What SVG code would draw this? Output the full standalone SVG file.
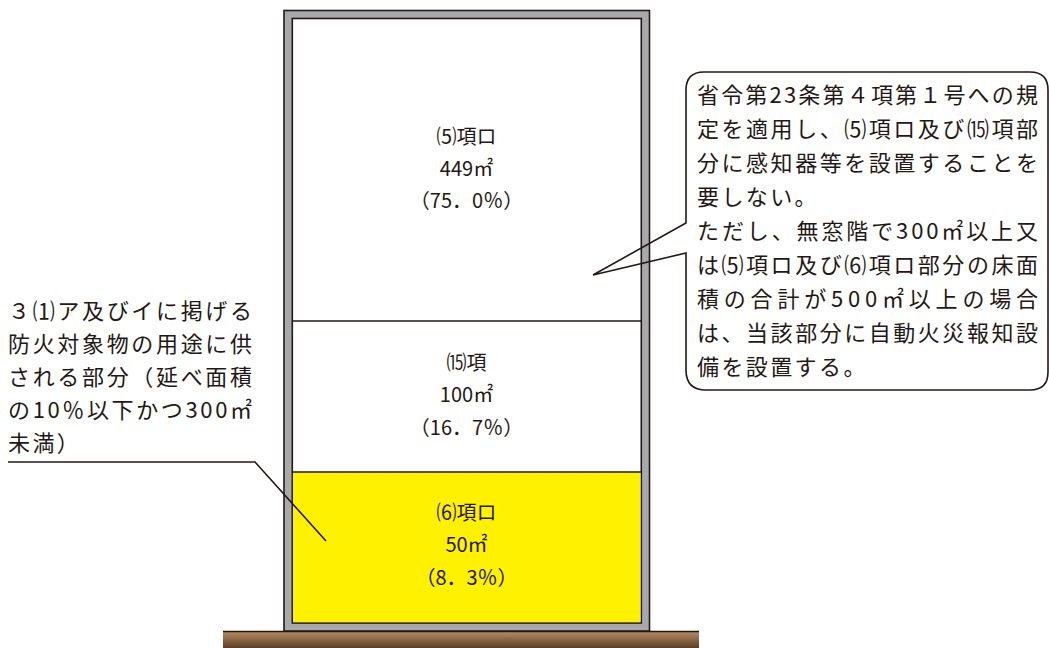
<svg xmlns="http://www.w3.org/2000/svg" width="1049" height="648" viewBox="0 0 1049 648">
<style>
.t{font-family:"Noto Sans CJK JP","Noto Sans CJK SC",sans-serif;fill:#231815}
.c{font-size:20px;text-anchor:middle}
.b{font-size:22px}
.ln{fill:none;stroke:#231815;stroke-width:1.6;stroke-linejoin:miter}
</style>
<defs>
<linearGradient id="gr" x1="0" y1="0" x2="0" y2="1">
<stop offset="0" stop-color="#b88f64"/>
<stop offset="1" stop-color="#5a3f27"/>
</linearGradient>
</defs>
<rect width="1049" height="648" fill="#fff"/>
<g id="ground">
<rect x="223" y="631" width="476" height="17" fill="url(#gr)"/>
<line x1="223" y1="631.5" x2="699" y2="631.5" stroke="#231815" stroke-width="1.5"/>
</g>
<g id="building">
<rect x="284" y="10.5" width="365.5" height="620.5" fill="#a7a9ac" stroke="#231815" stroke-width="1.6"/>
<rect x="292.3" y="18.5" width="349" height="604.5" fill="#fff" stroke="#231815" stroke-width="1.6"/>
</g>
<g id="room5">
<text class="t c" x="466.5" y="143.5">⑸項ロ</text>
<text class="t c" x="466.5" y="175.5">449㎡</text>
<text class="t c" x="466.5" y="207.5">（75．0％）</text>
</g>
<g id="room15">
<line x1="292.3" y1="321" x2="641.3" y2="321" stroke="#231815" stroke-width="1.6"/>
<text class="t c" x="466.5" y="369.5">⒂項</text>
<text class="t c" x="466.5" y="401.5">100㎡</text>
<text class="t c" x="466.5" y="434.5">（16．7％）</text>
</g>
<g id="room6">
<rect x="293.1" y="472" width="347.4" height="150.2" fill="#fff100"/>
<line x1="292.3" y1="472" x2="641.3" y2="472" stroke="#231815" stroke-width="1.6"/>
<text class="t c" x="466.5" y="519.5">⑹項ロ</text>
<text class="t c" x="466.5" y="551.5">50㎡</text>
<text class="t c" x="466.5" y="584.5">（8．3％）</text>
</g>
<g id="connectors">
<path class="ln" d="M686,223 L686,90 Q686,72 704,72 L1030,72 Q1048,72 1048,90 L1048,372 Q1048,390 1030,390 L706,390 Q686,390 686,370 L686,253 L593,275 Z"/>
<polyline class="ln" points="8,462 255,462 326,541"/>
</g>
<g id="note-left">
<text class="t b" x="8" y="319" textLength="244" lengthAdjust="spacing">３⑴ア及びイに掲げる</text>
<text class="t b" x="8" y="352" textLength="244" lengthAdjust="spacing">防火対象物の用途に供</text>
<text class="t b" x="8" y="385" textLength="244" lengthAdjust="spacing">される部分（延べ面積</text>
<text class="t b" x="8" y="418" textLength="244" lengthAdjust="spacing">の10％以下かつ300㎡</text>
<text class="t b" x="8" y="451" letter-spacing="2.4">未満）</text>
</g>
<g id="note-right">
<text class="t b" x="697" y="103" textLength="341" lengthAdjust="spacing">省令第23条第４項第１号への規</text>
<text class="t b" x="697" y="137" textLength="341" lengthAdjust="spacing">定を適用し、⑸項ロ及び⒂項部</text>
<text class="t b" x="697" y="171" textLength="341" lengthAdjust="spacing">分に感知器等を設置することを</text>
<text class="t b" x="697" y="205" letter-spacing="2.4">要しない。</text>
<text class="t b" x="697" y="239" textLength="341" lengthAdjust="spacing">ただし、無窓階で300㎡以上又</text>
<text class="t b" x="697" y="273" textLength="341" lengthAdjust="spacing">は⑸項ロ及び⑹項ロ部分の床面</text>
<text class="t b" x="697" y="307" textLength="341" lengthAdjust="spacing">積の合計が500㎡以上の場合</text>
<text class="t b" x="697" y="341" textLength="341" lengthAdjust="spacing">は、当該部分に自動火災報知設</text>
<text class="t b" x="697" y="375" letter-spacing="2.4">備を設置する。</text>
</g>
</svg>
